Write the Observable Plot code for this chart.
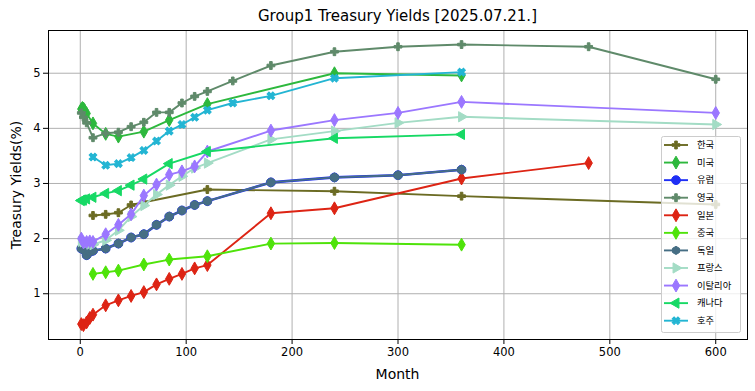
<!DOCTYPE html>
<html><head><meta charset="utf-8">
<script src="https://cdn.jsdelivr.net/npm/d3@7"></script>
<script src="https://cdn.jsdelivr.net/npm/@observablehq/plot@0.6"></script>
<style>body{margin:0;background:#fff}svg{display:block}</style>
</head><body><div id="chart"></div>
<script>
// ---- data ----
const seriesNames = ["한국","미국","유럽","영국","일본","중국","독일","프랑스","이탈리아","캐나다","호주"];
const koreaMonths = [12,24,36,48,60,120,240,360,600];
const koreaYields = [2.42,2.44,2.47,2.61,2.66,2.89,2.86,2.77,2.62];
const usMonths = [1,2,3,4,6,12,24,36,60,84,120,240,360];
const usYields = [4.35,4.37,4.36,4.33,4.27,4.09,3.90,3.85,3.94,4.15,4.44,5.00,4.96];
const euMonths = [1,3,6,9,12,24,36,48,60,72,84,96,108,120,180,240,300,360];
const euYields = [1.82,1.80,1.70,1.76,1.78,1.82,1.91,2.02,2.08,2.25,2.40,2.51,2.61,2.68,3.02,3.11,3.15,3.25];
const ukMonths = [1,3,6,12,24,36,48,60,72,84,96,108,120,144,180,240,300,360,480,600];
const ukYields = [4.28,4.20,4.10,3.83,3.91,3.93,4.03,4.11,4.29,4.29,4.46,4.58,4.67,4.86,5.14,5.39,5.48,5.52,5.48,4.89];
const jpMonths = [1,3,6,9,12,24,36,48,60,72,84,96,108,120,180,240,360,480];
const jpYields = [0.45,0.43,0.48,0.56,0.62,0.79,0.88,0.96,1.03,1.17,1.27,1.36,1.46,1.52,2.46,2.55,3.09,3.37];
const cnMonths = [12,24,36,60,84,120,180,240,360];
const cnYields = [1.36,1.39,1.42,1.53,1.62,1.68,1.91,1.92,1.89];
const deMonths = [1,3,6,9,12,24,36,48,60,72,84,96,108,120,180,240,300,360];
const deYields = [1.82,1.80,1.70,1.76,1.78,1.82,1.91,2.02,2.08,2.25,2.40,2.51,2.61,2.68,3.02,3.11,3.15,3.25];
const frMonths = [1,3,6,9,12,24,36,48,60,72,84,96,108,120,180,240,300,360,600];
const frYields = [1.95,1.94,1.92,1.90,1.89,1.97,2.15,2.40,2.60,2.80,2.97,3.13,3.28,3.37,3.80,3.95,4.10,4.21,4.07];
const itMonths = [1,3,6,9,12,24,36,48,60,72,84,96,108,120,180,240,300,360,600];
const itYields = [2.00,1.93,1.94,1.95,1.94,2.08,2.25,2.44,2.78,2.98,3.16,3.22,3.31,3.58,3.96,4.15,4.28,4.48,4.28];
const caMonths = [1,2,3,6,12,24,36,48,60,84,120,240,360];
const caYields = [2.69,2.70,2.70,2.72,2.75,2.82,2.87,2.97,3.08,3.36,3.58,3.82,3.89];
const auMonths = [12,24,36,48,60,72,84,96,108,120,144,180,240,360];
const auYields = [3.48,3.33,3.36,3.47,3.60,3.77,3.95,4.07,4.20,4.33,4.46,4.59,4.91,5.02];
const xTicks = [0,100,200,300,400,500,600];
const yTicks = [1,2,3,4,5];
const titleText = "Group1 Treasury Yields [2025.07.21.]";
const xLabel = "Month";
const yLabel = "Treasury Yields(%)";

// ---- styles ----
const styles = [
  {color:"#6b6b23", symbol:"cross", r:3.3, rotate:0},
  {color:"#2db83d", symbol:"diamond", r:3.9, rotate:0},
  {color:"#1f2ff5", symbol:"circle", r:4.4, rotate:0},
  {color:"#5f8a6a", symbol:"cross", r:3.3, rotate:0},
  {color:"#dd2414", symbol:"diamond", r:3.9, rotate:0},
  {color:"#4fe30a", symbol:"diamond", r:3.9, rotate:0},
  {color:"#466e84", symbol:"hexagon", r:3.9, rotate:0},
  {color:"#a3dcc5", symbol:"triangle", r:3.8, rotate:90},
  {color:"#9b77ff", symbol:"diamond", r:3.9, rotate:0},
  {color:"#17d965", symbol:"triangle", r:3.8, rotate:-90},
  {color:"#23b5d3", symbol:"cross", r:3.4, rotate:45}
];
const monthsList = [koreaMonths,usMonths,euMonths,ukMonths,jpMonths,cnMonths,deMonths,frMonths,itMonths,caMonths,auMonths];
const yieldsList = [koreaYields,usYields,euYields,ukYields,jpYields,cnYields,deYields,frYields,itYields,caYields,auYields];

const W = 755, H = 391;
const marks = [
  Plot.gridX(xTicks, {stroke:"#b0b0b0", strokeOpacity:1, strokeWidth:1}),
  Plot.gridY(yTicks, {stroke:"#b0b0b0", strokeOpacity:1, strokeWidth:1})
];
seriesNames.forEach((name, i) => {
  const data = monthsList[i].map((m, j) => ({month:m, y:yieldsList[i][j], name}));
  const s = styles[i];
  const lw = name === "유럽" ? 2.6 : 1.9;
  marks.push(Plot.line(data, {x:"month", y:"y", stroke:s.color, strokeWidth:lw}));
  marks.push(Plot.dot(data, {x:"month", y:"y", symbol:()=>s.symbol, r:s.r, fill:s.color, stroke:s.color, strokeWidth:1, rotate:s.rotate}));
});
marks.push(Plot.frame({stroke:"black", strokeWidth:1}));
marks.push(Plot.axisX(xTicks, {tickSize:5, tickPadding:3, label:null, fontSize:11.5, tickFormat:d=>String(d)}));
marks.push(Plot.axisY(yTicks, {tickSize:5, tickPadding:3, label:null, fontSize:11.5, tickFormat:d=>String(d)}));

const chart = Plot.plot({
  width: W, height: H,
  marginLeft: 48, marginRight: 8, marginTop: 30, marginBottom: 52,
  x: {domain:[-30, 630]},
  y: {domain:[0.17, 5.775]},
  symbol: {type:"identity"},
  style: {fontFamily:"'DejaVu Sans', 'Noto Sans CJK KR', sans-serif", fontSize:"11.5px", color:"black", background:"white"},
  marks
});
document.getElementById("chart").appendChild(chart);

const svg = d3.select(chart);
const font = "'DejaVu Sans', 'Noto Sans CJK KR', sans-serif";
svg.append("text").attr("x", 397.5).attr("y", 21).attr("text-anchor","middle")
  .attr("font-family", font).attr("font-size", 15).attr("fill","black").text(titleText);
svg.append("text").attr("x", 397.5).attr("y", 379).attr("text-anchor","middle")
  .attr("font-family", font).attr("font-size", 14).attr("fill","black").text(xLabel);
svg.append("text").attr("transform","translate(21,185) rotate(-90)").attr("text-anchor","middle")
  .attr("font-family", font).attr("font-size", 14).attr("fill","black").text(yLabel);

// legend
const hexagon = {draw(ctx, size){ const r = Math.sqrt(size/Math.PI)*1.05; for(let k=0;k<6;k++){const a=Math.PI/2+k*Math.PI/3; const px=r*Math.cos(a), py=r*Math.sin(a); k?ctx.lineTo(px,py):ctx.moveTo(px,py);} ctx.closePath(); }};
const symMap = {cross:d3.symbolCross, diamond:d3.symbolDiamond, circle:d3.symbolCircle, triangle:d3.symbolTriangle, hexagon};
const lg = svg.append("g");
lg.append("rect").attr("x",661.5).attr("y",136.5).attr("width",79).attr("height",196).attr("rx",2)
  .attr("fill","white").attr("fill-opacity",0.8).attr("stroke","#cccccc");
seriesNames.forEach((name, i) => {
  const s = styles[i];
  const y = 145 + i*17.57;
  lg.append("line").attr("x1",664).attr("x2",688).attr("y1",y).attr("y2",y).attr("stroke",s.color).attr("stroke-width",1.9);
  lg.append("path").attr("d", d3.symbol(symMap[s.symbol], Math.PI*s.r*s.r)())
    .attr("transform",`translate(676,${y}) rotate(${s.rotate})`).attr("fill",s.color).attr("stroke",s.color);
  lg.append("text").attr("x",697).attr("y",y).attr("dy","0.35em").attr("text-anchor","start").attr("font-family",font)
    .attr("font-size",9.3).attr("fill","black").text(name);
});
</script></body></html>
